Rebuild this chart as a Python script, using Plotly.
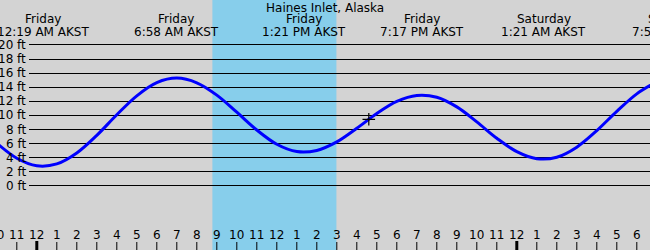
import plotly.graph_objects as go

# ---- data (hours from Friday 00:00 AKST) ----
hours = list(range(-2, 32))
tide_ft = [6.07, 3.94, 2.87, 3.13, 4.68, 7.18, 10.10, 12.79, 14.66, 15.30,
           14.64, 12.89, 10.46, 7.94, 5.92, 4.88, 5.04, 6.25, 8.18, 10.28,
           12.0, 12.85, 12.59, 11.22, 9.09, 6.77, 4.87, 3.87, 4.08, 5.51,
           7.85, 10.58, 13.07, 14.77]
hour_labels = ["10", "11", "12", "1", "2", "3", "4", "5", "6", "7", "8", "9",
               "10", "11", "12", "1", "2", "3", "4", "5", "6", "7", "8", "9",
               "10", "11", "12", "1", "2", "3", "4", "5", "6", "7"]
midnights = [0, 24]

ext_times = [0.317, 6.967, 13.35, 19.283, 25.35, 31.9]
ext_days = ["Friday", "Friday", "Friday", "Friday", "Saturday", "Saturday"]
ext_labels = ["12:19 AM AKST", "6:58 AM AKST", "1:21 PM AKST",
              "7:17 PM AKST", "1:21 AM AKST", "7:54 AM AKST"]

now_time = [16.6]
now_ft = [9.46]

sunrise, sunset = 8.78, 14.98
ft_ticks = [0, 2, 4, 6, 8, 10, 12, 14, 16, 18, 20]
title = "Haines Inlet, Alaska"

# ---- layout constants ----
W, H = 650, 250
X0, X1 = -1.84, 30.66
Y0, Y1 = -9.08, 26.38
FONT = "DejaVu Sans"
FS = 12


def xp(t):
    return (t - X0) / (X1 - X0)


def yp(px):
    return 1 - px / H


def ft_px(v):
    return (Y1 - v) / (Y1 - Y0) * H


fig = go.Figure()
fig.add_trace(go.Scatter(x=hours, y=tide_ft, mode="lines",
                         line=dict(color="#0000ff", width=3, shape="spline"),
                         hoverinfo="skip", showlegend=False))
fig.add_trace(go.Scatter(x=now_time, y=now_ft, mode="markers",
                         marker=dict(symbol="cross-thin", size=9,
                                     line=dict(color="black", width=1.2)),
                         hoverinfo="skip", showlegend=False))

shapes = [dict(type="rect", xref="x", yref="paper", x0=sunrise, x1=sunset,
               y0=0, y1=1, fillcolor="#87ceeb", line=dict(width=0),
               layer="below")]
for v in ft_ticks:
    py = yp(int(ft_px(v)) + 0.5)
    shapes.append(dict(type="line", xref="paper", yref="paper", x0=29 / W,
                       x1=1, y0=py, y1=py, line=dict(color="black", width=1),
                       layer="below"))
for h in hours:
    w = 3 if h in midnights else 1
    shapes.append(dict(type="line", xref="x", yref="paper", x0=h, x1=h,
                       y0=0, y1=yp(241 if w == 3 else 242),
                       line=dict(color="black", width=w)))

ann = []
ann.append(dict(text=title, xref="paper", yref="paper", x=0.5, y=yp(7.5),
                showarrow=False, xanchor="center", yanchor="middle",
                font=dict(family=FONT, size=FS, color="black")))
for t, d, lab in zip(ext_times, ext_days, ext_labels):
    ann.append(dict(text=d, xref="paper", yref="paper", x=xp(t), y=yp(19.5),
                    showarrow=False, xanchor="center", yanchor="middle",
                    font=dict(family=FONT, size=FS, color="black")))
    ann.append(dict(text=lab, xref="paper", yref="paper", x=xp(t), y=yp(31.5),
                    showarrow=False, xanchor="center", yanchor="middle",
                    font=dict(family=FONT, size=FS, color="black")))
for v in ft_ticks:
    ann.append(dict(text=f"{v} ft", xref="paper", yref="y", x=27.5 / W, y=v,
                    showarrow=False, xanchor="right", yanchor="middle",
                    font=dict(family=FONT, size=FS, color="black")))
for h, lab in zip(hours, hour_labels):
    ann.append(dict(text=lab, xref="paper", yref="paper", x=xp(h), y=yp(235),
                    showarrow=False, xanchor="center", yanchor="middle",
                    font=dict(family=FONT, size=FS, color="black")))

fig.update_layout(
    width=W, height=H, margin=dict(l=0, r=0, t=0, b=0, pad=0),
    paper_bgcolor="#d3d3d3", plot_bgcolor="#d3d3d3",
    xaxis=dict(range=[X0, X1], visible=False, fixedrange=True),
    yaxis=dict(range=[Y0, Y1], visible=False, fixedrange=True),
    shapes=shapes, annotations=ann, showlegend=False,
)
fig.write_html("out.html", config={"displayModeBar": False})
